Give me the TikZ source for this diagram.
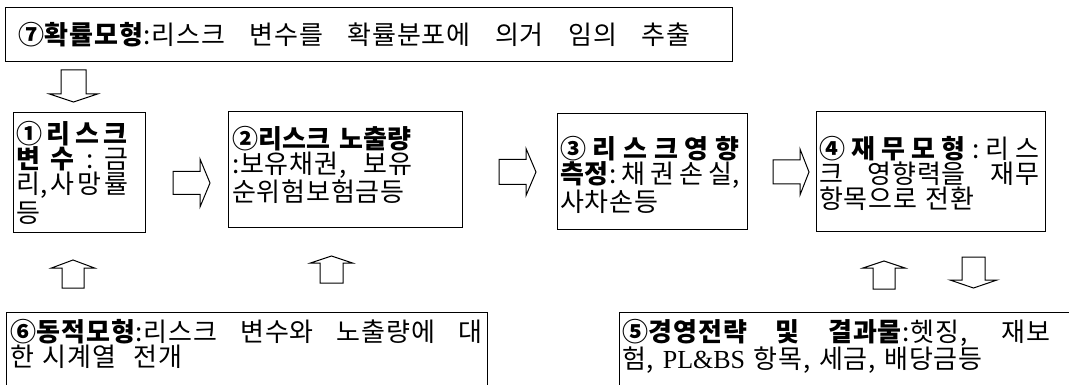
\documentclass[tikz,border=0pt]{standalone}
\usepackage{graphicx}
\usepackage{fontspec}
\setmainfont{Noto Sans CJK KR}[LetterSpace=3]
\newfontfamily\lser{Liberation Serif}
\newsavebox\jlbox
\newcommand\gp{\hspace{0pt plus 1fil}}
\newcommand\jl[2]{\sbox\jlbox{\spaceskip=0.25em\relax #2}%
  \ifdim\wd\jlbox>#1\relax\resizebox{#1}{\height}{\usebox\jlbox}%
  \else\makebox[#1][s]{\spaceskip=0.25em plus 1fil\relax #2}\fi}
\newcommand\arrR[6]{\draw[blk] ({#1},{#4-#5}) -- ({#2},{#4-#5}) -- ({#2},{#4-#6}) -- ({#3},{#4}) -- ({#2},{#4+#6}) -- ({#2},{#4+#5}) -- ({#1},{#4+#5}) -- cycle;}
\newcommand\arrV[6]{\draw[blk] ({#1-#5},{#2}) -- ({#1-#5},{#3}) -- ({#1-#6},{#3}) -- ({#1},{#4}) -- ({#1+#6},{#3}) -- ({#1+#5},{#3}) -- ({#1+#5},{#2}) -- cycle;}
\tikzset{
  box/.style={draw=black, line width=1pt, inner sep=0pt, anchor=north west},
  blk/.style={draw=black, line width=1pt, fill=white, line join=miter},
  txt/.style={anchor=base west, inner sep=0pt, align=left, font=\fontsize{26}{25}\selectfont},
}
\begin{document}
\begin{tikzpicture}[x=1pt, y=-1pt]
\useasboundingbox (0,0) rectangle (1069,385);
\clip (0,0) rectangle (1069,385);
\fill[white] (0,0) rectangle (1069,385);
% boxes
\node[box, minimum width=727pt, minimum height=54pt] (b7) at (5,7) {};
\node[box, minimum width=132pt, minimum height=120pt] (b1) at (13,112) {};
\node[box, minimum width=234pt, minimum height=116pt] (b2) at (228,111) {};
\node[box, minimum width=190pt, minimum height=116pt] (b3) at (557,113) {};
\node[box, minimum width=229pt, minimum height=120pt] (b4) at (816,111) {};
\node[box, minimum width=481pt, minimum height=90pt] (b6) at (6,312) {};
\node[box, minimum width=470pt, minimum height=90pt] (b5) at (619,312) {};
% texts
\node[txt, text width=680pt] (t7) at (18,45) {\jl{672pt}{\textbf{⑦확률모형}:리스크 변수를 확률분포에 의거 임의 추출}};
\node[txt, text width=114pt] (t1) at (16,144) {\jl{112pt}{\textbf{①\gp 리\gp 스\gp 크}}\\
\jl{112pt}{\textbf{변\gp 수}\gp :\gp 금}\\
\jl{112pt}{리,\gp 사\gp 망\gp 률}\\[2pt]
등};
\node[txt, text width=225pt] (t2) at (232,149) {\jl{180pt}{\textbf{②\gp 리\gp 스\gp 크\hspace{8pt plus 2fil}노\gp 출\gp 량}}\\
\jl{180pt}{:보유채권, 보유}\\
순위험보험금등};
\node[txt, text width=181pt] (t3) at (560,159) {\jl{180pt}{\textbf{③\gp 리\gp 스\gp 크\gp 영\gp 향}}\\
\jl{180pt}{\textbf{측정}:\gp 채\gp 권\gp 손\gp 실,}\\
사차손등};
\node[txt, text width=221pt] (t4) at (819,159) {\jl{220pt}{\textbf{④\gp 재\gp 무\gp 모\gp 형}\gp :\gp 리\gp 스}\\
\jl{220pt}{크 영향력을 재무}\\
항목으로 전환};
\node[txt, text width=472pt] (t6) at (10,341) {\jl{472pt}{\textbf{⑥동적모형}:리스크 변수와 노출량에 대}\\
한 시계열\ \ 전개};
\node[txt, text width=430pt] (t5) at (622,341) {\jl{428pt}{\textbf{⑤경영전략 및 결과물}:헷징, 재보}\\
험, {\lser PL\&BS} 항목, 세금, 배당금등};
% block arrows
\arrV{73.5}{70}{94}{102}{12.5}{24}
\arrR{173}{200}{210}{183}{11.5}{24}
\arrR{499}{526}{536}{172}{12.5}{23.5}
\arrR{773}{800}{809}{172}{12}{23}
\arrV{73}{288}{268}{260}{11}{21.5}
\arrV{331.5}{283}{263}{256}{11.5}{21}
\arrV{884}{289}{268}{261}{11}{21}
\arrV{973.5}{257}{280}{288}{11.5}{23.5}
\end{tikzpicture}
\end{document}
